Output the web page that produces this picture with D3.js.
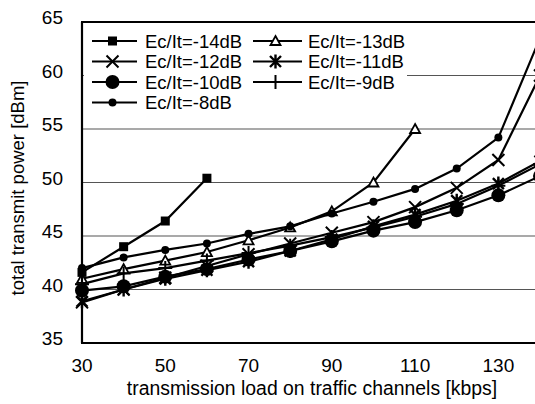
<!DOCTYPE html>
<html>
<head>
<meta charset="utf-8">
<script src="https://cdn.jsdelivr.net/npm/d3@7"></script>
<style>
  body { margin: 0; background: #fff; }
  text { font-family: "Liberation Sans", Arial, sans-serif; fill: #000; }
</style>
</head>
<body>
<div id="plot"></div>
<script>
// load on traffic channels [kbps]
var loads = [30, 40, 50, 60, 70, 80, 90, 100, 110, 120, 130, 140];
var p14 = [41.6, 44.0, 46.4, 50.4];
var p13 = [41.0, 41.9, 42.7, 43.5, 44.6, 45.8, 47.3, 50.0, 55.0];
var p12 = [38.8, 40.0, 41.1, 42.2, 43.3, 44.3, 45.3, 46.3, 47.7, 49.5, 52.1, 60.0];
var p11 = [38.9, 40.0, 41.0, 41.8, 42.6, 43.6, 44.7, 45.9, 47.0, 48.3, 49.9, 52.0];
var p10 = [39.9, 40.3, 41.2, 41.9, 42.8, 43.6, 44.5, 45.5, 46.3, 47.4, 48.8, 50.6];
var p9  = [40.5, 41.5, 42.0, 42.7, 43.4, 44.1, 44.9, 45.8, 46.8, 48.0, 49.7, 51.7];
var p8  = [42.0, 43.0, 43.7, 44.3, 45.2, 45.9, 47.1, 48.2, 49.4, 51.3, 54.2, 63.5];

var xTicks = [30, 50, 70, 90, 110, 130];
var yTicks = [35, 40, 45, 50, 55, 60, 65];
var gridVals = [40, 45, 50, 55, 60];

var series = [
  {name: "Ec/It=-14dB", vals: p14, mark: "square"},
  {name: "Ec/It=-13dB", vals: p13, mark: "triangle"},
  {name: "Ec/It=-12dB", vals: p12, mark: "cross"},
  {name: "Ec/It=-11dB", vals: p11, mark: "star"},
  {name: "Ec/It=-10dB", vals: p10, mark: "bigdot"},
  {name: "Ec/It=-9dB",  vals: p9,  mark: "plus"},
  {name: "Ec/It=-8dB",  vals: p8,  mark: "dot"}
];
// legend layout: column 1 = -14,-12,-10,-8 ; column 2 = -13,-11,-9
var legendOrder = [[0, 2, 4, 6], [1, 3, 5]];

var width = 535, height = 404;
var margin = {top: 22, left: 82, bottom: 61};

var x = d3.scaleLinear().domain([30, 140]).range([margin.left, 540]);
var y = d3.scaleLinear().domain([35, 65]).range([height - margin.bottom, margin.top]);

var svg = d3.select("#plot").append("svg")
  .attr("width", width)
  .attr("height", height);

// grid lines
svg.selectAll(".grid")
  .data(gridVals)
  .enter()
  .append("line")
  .attr("x1", x(30))
  .attr("x2", width)
  .attr("y1", function(d){ return y(d) })
  .attr("y2", function(d){ return y(d) })
  .style("stroke", "#555")
  .style("stroke-width", 1.2);

function drawMarker(g, type, cx, cy){
  var s;
  switch(type){
    case "square":
      g.append("rect").attr("x", cx - 4.5).attr("y", cy - 4.5)
        .attr("width", 9).attr("height", 9).style("fill", "#000");
      break;
    case "triangle":
      g.append("path")
        .attr("d", "M" + cx + "," + (cy - 5) + "L" + (cx + 5) + "," + (cy + 4) + "L" + (cx - 5) + "," + (cy + 4) + "Z")
        .style("fill", "#fff").style("stroke", "#000").style("stroke-width", 1.8);
      break;
    case "cross":
      s = 6;
      g.append("path")
        .attr("d", "M" + (cx - s) + "," + (cy - s) + "L" + (cx + s) + "," + (cy + s) +
                   "M" + (cx - s) + "," + (cy + s) + "L" + (cx + s) + "," + (cy - s))
        .style("stroke", "#000").style("stroke-width", 2);
      break;
    case "star":
      s = 5.5;
      g.append("path")
        .attr("d", "M" + (cx - s) + "," + (cy - s) + "L" + (cx + s) + "," + (cy + s) +
                   "M" + (cx - s) + "," + (cy + s) + "L" + (cx + s) + "," + (cy - s) +
                   "M" + cx + "," + (cy - s - 1.5) + "L" + cx + "," + (cy + s + 1.5))
        .style("stroke", "#000").style("stroke-width", 2.4);
      break;
    case "bigdot":
      g.append("circle").attr("cx", cx).attr("cy", cy).attr("r", 7).style("fill", "#000");
      break;
    case "plus":
      s = 7;
      g.append("path")
        .attr("d", "M" + (cx - s) + "," + cy + "L" + (cx + s) + "," + cy +
                   "M" + cx + "," + (cy - s) + "L" + cx + "," + (cy + s))
        .style("stroke", "#000").style("stroke-width", 2);
      break;
    case "dot":
      g.append("circle").attr("cx", cx).attr("cy", cy).attr("r", 4).style("fill", "#000");
      break;
  }
}

var line = d3.line()
  .x(function(d){ return x(d[0]) })
  .y(function(d){ return y(d[1]) });

var plot = svg.append("g");

series.forEach(function(s){
  var pts = s.vals.map(function(v, i){ return [loads[i], v] });
  plot.append("path")
    .datum(pts)
    .attr("d", line)
    .style("fill", "none")
    .style("stroke", "#000")
    .style("stroke-width", 2.2);
});
series.forEach(function(s){
  var g = plot.append("g");
  s.vals.forEach(function(v, i){
    drawMarker(g, s.mark, x(loads[i]), y(v));
  });
});

// legend (white box, no border)
var legend = svg.append("g");
legend.append("rect")
  .attr("x", 84).attr("y", 26)
  .attr("width", 323).attr("height", 90)
  .style("fill", "#fff");

var colX = [[92, 137, 145], [253, 302, 308]];
var rowY = [41, 61.5, 82, 102.5];
legendOrder.forEach(function(col, c){
  col.forEach(function(idx, r){
    var yy = rowY[r];
    legend.append("line")
      .attr("x1", colX[c][0]).attr("x2", colX[c][1])
      .attr("y1", yy).attr("y2", yy)
      .style("stroke", "#000").style("stroke-width", 2);
    drawMarker(legend, series[idx].mark, (colX[c][0] + colX[c][1]) / 2 - 2, yy);
    legend.append("text")
      .attr("x", colX[c][2]).attr("y", yy + 6.5)
      .style("font-size", "18.5px")
      .text(series[idx].name);
  });
});

// frame
svg.append("line")
  .attr("x1", x(30)).attr("x2", x(30))
  .attr("y1", y(65)).attr("y2", y(35))
  .style("stroke", "#000").style("stroke-width", 2.2);
svg.append("line")
  .attr("x1", x(30) - 1).attr("x2", width)
  .attr("y1", y(35)).attr("y2", y(35))
  .style("stroke", "#000").style("stroke-width", 2.2);
svg.append("line")
  .attr("x1", x(30) - 1).attr("x2", width)
  .attr("y1", y(65)).attr("y2", y(65))
  .style("stroke", "#000").style("stroke-width", 2.2);

// tick labels
svg.selectAll(".ylab")
  .data(yTicks)
  .enter()
  .append("text")
  .attr("x", 63)
  .attr("y", function(d){ return y(d) + 2 })
  .attr("text-anchor", "end")
  .style("font-size", "19px")
  .text(function(d){ return d });

svg.selectAll(".xlab")
  .data(xTicks)
  .enter()
  .append("text")
  .attr("x", function(d){ return x(d) })
  .attr("y", 372)
  .attr("text-anchor", "middle")
  .style("font-size", "19px")
  .text(function(d){ return d });

svg.append("text")
  .attr("x", 312)
  .attr("y", 395)
  .attr("text-anchor", "middle")
  .style("font-size", "19.4px")
  .text("transmission load on traffic channels [kbps]");

svg.append("text")
  .attr("transform", "translate(24," + 188 + ") rotate(-90)")
  .attr("text-anchor", "middle")
  .style("font-size", "18.5px")
  .text("total transmit power [dBm]");
</script>
</body>
</html>
